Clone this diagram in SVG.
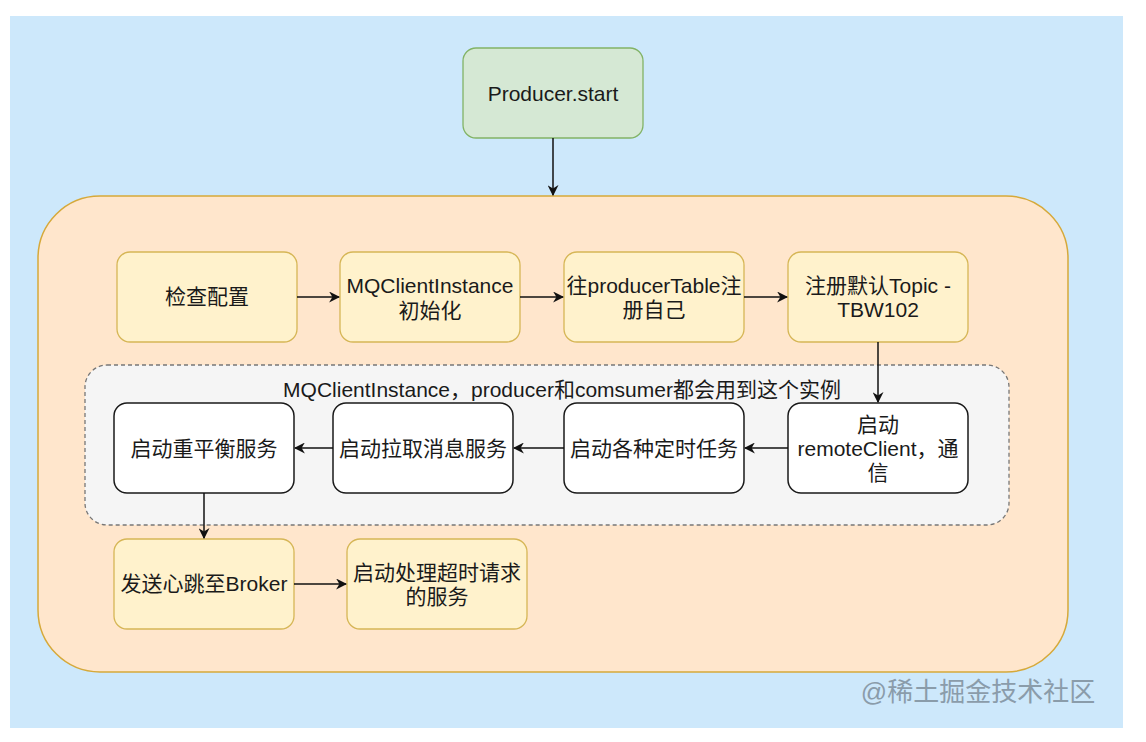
<svg xmlns="http://www.w3.org/2000/svg" width="1146" height="742" viewBox="0 0 1146 742">
<defs>
<style>
.t{font-family:"Liberation Sans","Noto Sans CJK SC",sans-serif;font-size:21px;fill:#1a1a1a;text-anchor:middle}
.y{fill:#fff2cc;stroke:#d6b656;stroke-width:1.3}
.w{fill:#ffffff;stroke:#1a1a1a;stroke-width:1.5}
.c{fill:none;stroke:#111;stroke-width:1.5;marker-end:url(#ah)}
</style>
<marker id="ah" viewBox="0 0 10 10" refX="9" refY="5" markerWidth="11" markerHeight="11" markerUnits="userSpaceOnUse" orient="auto">
<path d="M0,0 L10,5 L0,10 L3,5 Z" fill="#111"/>
</marker>
</defs>
<rect x="0" y="0" width="1146" height="742" fill="#ffffff"/>
<rect x="10" y="16" width="1113" height="712" fill="#cde8fb"/>
<g id="container">
<rect x="38" y="196" width="1030" height="476" rx="62" fill="#ffe6cc" stroke="#d6a93a" stroke-width="1.5"/>
</g>
<g id="group-mq">
<rect x="85" y="365" width="924" height="160" rx="22" fill="#f5f5f5" stroke="#777" stroke-width="1.3" stroke-dasharray="4 3"/>
<text class="t" x="562" y="397">MQClientInstance，producer和comsumer都会用到这个实例</text>
</g>
<g id="producer-start">
<rect x="463" y="48" width="180" height="90" rx="13" fill="#d5e8d4" stroke="#82b366" stroke-width="1.3"/>
<text class="t" x="553" y="101">Producer.start</text>
</g>
<g id="check-config">
<rect class="y" x="117" y="252" width="180" height="90" rx="13"/>
<text class="t" x="207" y="304">检查配置</text>
</g>
<g id="mq-init">
<rect class="y" x="340" y="252" width="180" height="90" rx="13"/>
<text class="t" x="430" y="293">MQClientInstance</text>
<text class="t" x="430" y="318">初始化</text>
</g>
<g id="register-self">
<rect class="y" x="564" y="252" width="180" height="90" rx="13"/>
<text class="t" x="654" y="293">往producerTable注</text>
<text class="t" x="654" y="317">册自己</text>
</g>
<g id="register-topic">
<rect class="y" x="788" y="252" width="180" height="90" rx="13"/>
<text class="t" x="878" y="293">注册默认Topic -</text>
<text class="t" x="878" y="317">TBW102</text>
</g>
<g id="start-remote">
<rect class="w" x="788" y="403" width="180" height="90" rx="13"/>
<text class="t" x="878" y="432">启动</text>
<text class="t" x="878" y="456">remoteClient，通</text>
<text class="t" x="878" y="480">信</text>
</g>
<g id="start-timers">
<rect class="w" x="564" y="403" width="180" height="90" rx="13"/>
<text class="t" x="654" y="456">启动各种定时任务</text>
</g>
<g id="start-pull">
<rect class="w" x="333" y="403" width="180" height="90" rx="13"/>
<text class="t" x="423" y="456">启动拉取消息服务</text>
</g>
<g id="start-rebalance">
<rect class="w" x="114" y="403" width="180" height="90" rx="13"/>
<text class="t" x="204" y="456">启动重平衡服务</text>
</g>
<g id="heartbeat">
<rect class="y" x="114" y="539" width="180" height="90" rx="13"/>
<text class="t" x="204" y="591">发送心跳至Broker</text>
</g>
<g id="timeout-service">
<rect class="y" x="347" y="539" width="180" height="90" rx="13"/>
<text class="t" x="437" y="580">启动处理超时请求</text>
<text class="t" x="437" y="604">的服务</text>
</g>
<g id="connectors">
<path class="c" d="M553,138 L553,195"/>
<path class="c" d="M297,297 L339,297"/>
<path class="c" d="M520,297 L563,297"/>
<path class="c" d="M744,297 L787,297"/>
<path class="c" d="M878,342 L878,402"/>
<path class="c" d="M788,448 L745,448"/>
<path class="c" d="M564,448 L514,448"/>
<path class="c" d="M333,448 L295,448"/>
<path class="c" d="M204,493 L204,538"/>
<path class="c" d="M294,584 L346,584"/>
</g>
<text x="978" y="701" style="font-family:'Liberation Sans','Noto Sans CJK SC',sans-serif;font-size:26px;fill:#7f8f9c;text-anchor:middle;opacity:0.85">@稀土掘金技术社区</text>
</svg>
